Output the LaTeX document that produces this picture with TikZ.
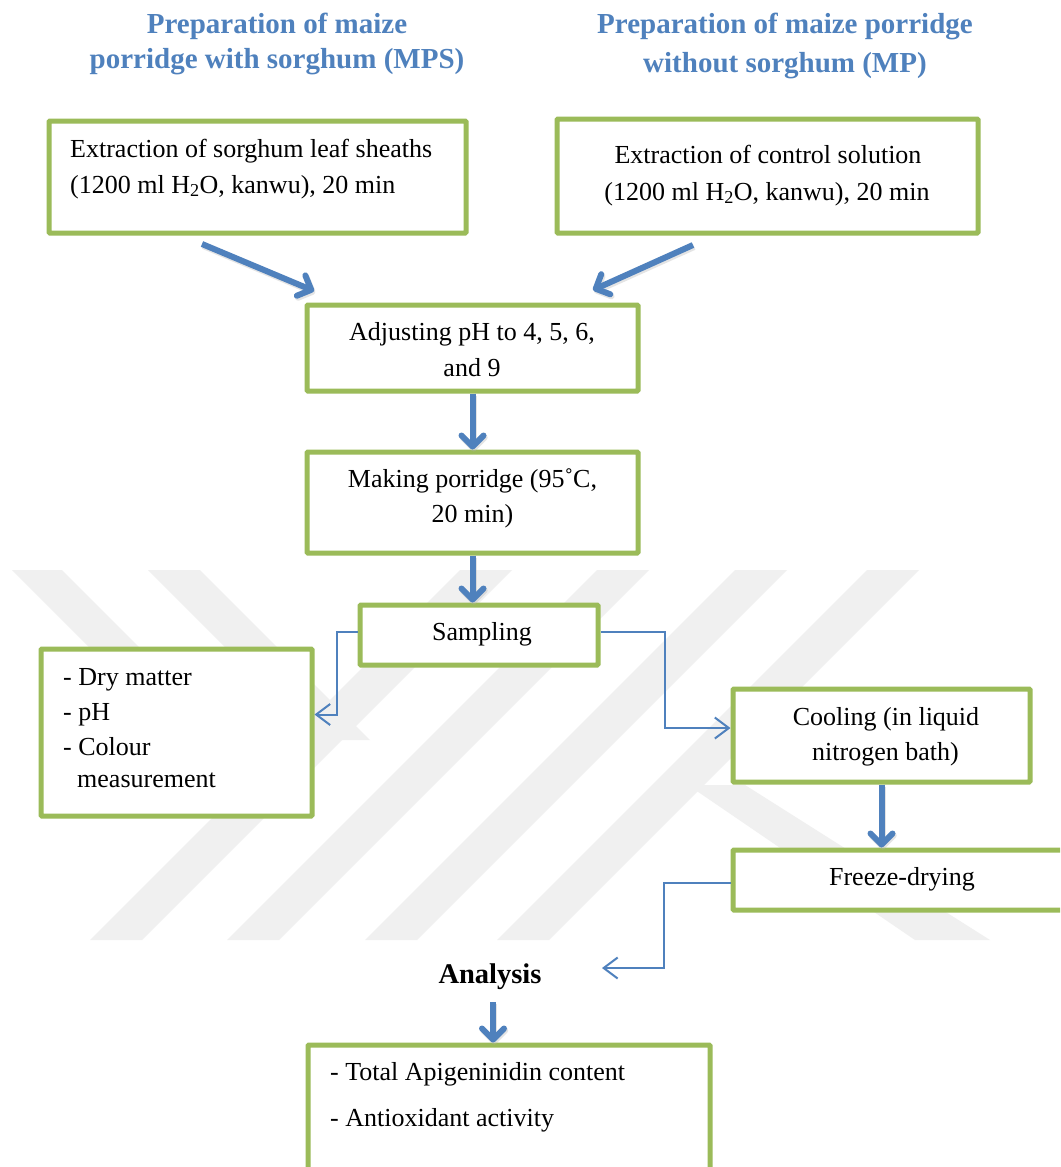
\documentclass[tikz,border=0pt]{standalone}
\usepackage{fontspec}
\setmainfont{Liberation Serif}
\usetikzlibrary{arrows.meta,calc}
\definecolor{gborder}{HTML}{9BBB59}
\definecolor{barrow}{HTML}{4F81BD}
\definecolor{wmark}{HTML}{F0F0F0}
\begin{document}
\begin{tikzpicture}[x=1pt,y=-1pt,
  box/.style={draw=gborder, line width=5pt, fill=white, rectangle, inner sep=0pt, rounded corners=1pt},
  body/.style={font=\fontsize{26}{35}\selectfont, inner sep=0pt, anchor=base},
  title/.style={font=\fontsize{29}{35}\selectfont\bfseries, text=barrow, inner sep=0pt, anchor=base, align=center},
  fat/.style={draw=barrow, line width=6pt, -{Straight Barb[length=11pt,width=22pt,round]}},
  fatshadow/.style={draw=black!30, opacity=0.35, line width=6pt, -{Straight Barb[length=11pt,width=22pt,round]}},
  slim/.style={draw=barrow, line width=2pt, -{Straight Barb[length=14pt,width=21pt]}},
  wm/.style={fill=wmark, draw=none}
]
\useasboundingbox (0,0) rectangle (1060,1167);
\clip (0,0) rectangle (1060,1167);
\fill[white] (0,0) rectangle (1060,1167);

% watermark
\foreach \b in {90,227,365,497} {
  \fill[wm] (\b,940) -- (\b+52,940) -- (\b+422,570) -- (\b+370,570) -- cycle;
}
\fill[wm] (12,570) -- (62,570) -- (286,794) -- (236,794) -- cycle;
\fill[wm] (148,570) -- (200,570) -- (370,740) -- (318,740) -- cycle;
\fill[wm] (688,785) -- (745,785) -- (990,940) -- (915,940) -- cycle;

% titles (base anchor = baseline of last line)
\node[title] (t1) at (277,68) {Preparation of maize\\porridge with sorghum (MPS)};
\node[title] (t2) at (785,72) {Preparation of maize porridge\\[4pt]without sorghum (MP)};

% boxes
\node[box, minimum width=417pt, minimum height=112pt] (b1) at (257.5,177) {};
\node[box, minimum width=421pt, minimum height=114pt] (b2) at (767.5,176) {};
\node[box, minimum width=331pt, minimum height=86pt]  (b3) at (472.5,348) {};
\node[box, minimum width=331pt, minimum height=101pt] (b4) at (472.5,502.5) {};
\node[box, minimum width=238pt, minimum height=60pt]  (b5) at (479,635) {};
\node[box, minimum width=271pt, minimum height=167pt] (b6) at (176.5,732.5) {};
\node[box, minimum width=297pt, minimum height=93pt]  (b7) at (881.5,735.5) {};
\node[box, minimum width=337pt, minimum height=60pt]  (b8) at (901.5,880) {};
\node[box, minimum width=402pt, minimum height=145pt] (b9) at (509,1117.5) {};

% texts
\node[body, anchor=base west] (x1a) at (70,157) {Extraction of sorghum leaf sheaths};
\node[body, anchor=base west] (x1b) at (70,193) {(1200 ml H\textsubscript{2}O, kanwu), 20 min};
\node[body] (x2a) at (768,163) {Extraction of control solution};
\node[body] (x2b) at (767,200) {(1200 ml H\textsubscript{2}O, kanwu), 20 min};
\node[body] (x3a) at (472,340) {Adjusting pH to 4, 5, 6,};
\node[body] (x3b) at (472,376) {and 9};
\node[body] (x4a) at (472.5,487) {Making porridge (95˚C,};
\node[body] (x4b) at (472.5,522) {20 min)};
\node[body] (x5) at (482,640) {Sampling};
\node[body, anchor=base west] (x6a) at (63,685) {- Dry matter};
\node[body, anchor=base west] (x6b) at (63,720) {- pH};
\node[body, anchor=base west] (x6c) at (63,755) {- Colour};
\node[body, anchor=base west] (x6d) at (77,787) {measurement};
\node[body] (x7a) at (886,725) {Cooling (in liquid};
\node[body] (x7b) at (885.5,760) {nitrogen bath)};
\node[body] (x8) at (902,885) {Freeze-drying};
\node[body, font=\fontsize{28.5}{35}\selectfont\bfseries] (ana) at (490,983) {Analysis};
\node[body, anchor=base west] (x9a) at (330,1080) {- Total Apigeninidin content};
\node[body, anchor=base west] (x9b) at (330,1126) {- Antioxidant activity};

\coordinate (anain) at (602,968);

% thick arrows (shadow first)
\begin{scope}[transform canvas={shift={(1.2pt,-2pt)}}]
\draw[fatshadow] ($(b1.south west)+(155.5,8.5)$) -- ($(b3.north west)+(9.5,-11.5)$);
\draw[fatshadow] ($(b2.south west)+(138.5,9.5)$) -- ($(b3.north east)+(-47.5,-12.5)$);
\draw[fatshadow] (b3.south) -- (b4.north);
\draw[fatshadow] (b4.south) -- (b4.south |- b5.north);
\draw[fatshadow] (b7.south) -- (b7.south |- b8.north);
\draw[fatshadow] ($(ana.base)+(3,19)$) coordinate (qs) -- (qs |- b9.north);
\end{scope}
\draw[fat] ($(b1.south west)+(155.5,8.5)$) -- ($(b3.north west)+(9.5,-11.5)$);
\draw[fat] ($(b2.south west)+(138.5,9.5)$) -- ($(b3.north east)+(-47.5,-12.5)$);
\draw[fat] (b3.south) -- (b4.north);
\draw[fat] (b4.south) -- (b4.south |- b5.north);
\draw[fat] (b7.south) -- (b7.south |- b8.north);
\draw[fat] ($(ana.base)+(3,19)$) coordinate (q) -- (q |- b9.north);

% thin elbow connectors
\draw[slim] ([yshift=3pt]b5.west) -- ++(-21,0) |- ([yshift=18pt]b6.east);
\draw[slim] ([yshift=3pt]b5.east) -- ++(64.5,0) |- ([yshift=7.5pt]b7.west);
\draw[slim] ([yshift=-3pt]b8.west) -- ++(-67,0) |- (anain);
\end{tikzpicture}
\end{document}
